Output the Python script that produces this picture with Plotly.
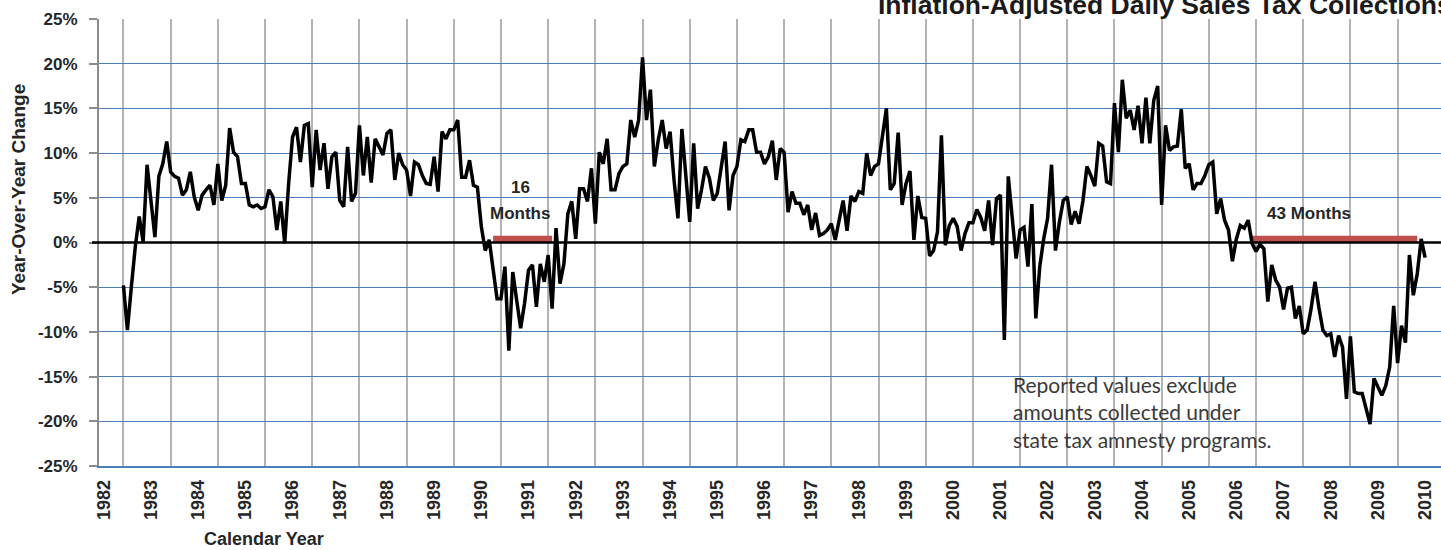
import plotly.graph_objects as go

# ---------------- data (year-over-year % change, monthly) ----------------
first_year = 1982
first_month = 6  # first value is June 1982

v1982 = [-4.8, -9.8, -5.0, -0.5, 2.9, 0.1, 8.7]
v1983 = [4.5, 0.6, 7.4, 8.8, 11.3, 7.9, 7.4, 7.2, 5.3, 5.9, 7.9, 5.1]
v1984 = [3.6, 5.3, 5.9, 6.4, 4.2, 8.8, 4.7, 6.4, 12.8, 10.1, 9.6, 6.6]
v1985 = [6.6, 4.2, 4.0, 4.2, 3.8, 4.0, 5.9, 5.1, 1.4, 4.6, -0.1, 6.6]
v1986 = [11.8, 12.9, 9.0, 13.1, 13.3, 6.2, 12.6, 8.1, 11.1, 6.0, 9.6, 10.1]
v1987 = [4.7, 4.0, 10.7, 4.6, 5.5, 13.1, 7.5, 11.8, 6.7, 11.6, 10.7, 9.8]
v1988 = [12.2, 12.6, 7.0, 10.0, 8.7, 8.1, 5.2, 9.0, 8.7, 7.5, 6.6, 6.5]
v1989 = [9.6, 5.7, 12.4, 11.6, 12.6, 12.6, 13.7, 7.3, 7.3, 9.2, 6.4, 6.2]
v1990 = [1.8, -0.9, 0.3, -3.0, -6.3, -6.3, -2.7, -12.1, -3.3, -6.5, -9.6, -6.8]
v1991 = [-3.1, -2.5, -7.2, -2.4, -4.4, -1.4, -7.4, 1.6, -4.6, -2.4, 3.2, 4.6]
v1992 = [0.4, 6.0, 6.0, 4.6, 8.3, 2.1, 10.1, 8.8, 11.6, 5.9, 5.9, 7.7]
v1993 = [8.5, 8.8, 13.7, 11.8, 13.7, 20.7, 13.7, 17.1, 8.5, 11.5, 13.7, 10.5]
v1994 = [12.4, 7.0, 2.7, 12.7, 7.0, 2.3, 11.1, 3.8, 5.9, 8.5, 7.2, 4.7]
v1995 = [5.5, 8.3, 11.3, 3.6, 7.5, 8.5, 11.5, 11.3, 12.6, 12.6, 10.1, 10.1]
v1996 = [8.8, 9.6, 11.4, 7.0, 10.5, 10.1, 3.4, 5.7, 4.4, 4.4, 3.1, 4.2]
v1997 = [1.4, 3.3, 0.8, 1.0, 1.4, 2.1, 0.3, 2.5, 4.7, 1.3, 5.2, 4.6]
v1998 = [5.7, 5.5, 10.0, 7.5, 8.5, 8.8, 11.8, 15.0, 5.9, 6.6, 12.3, 4.2]
v1999 = [6.6, 8.0, 0.3, 5.2, 2.8, 2.7, -1.5, -0.9, 1.2, 12.0, -0.3, 1.9]
v2000 = [2.7, 1.8, -0.9, 1.0, 2.2, 2.2, 3.7, 2.8, 1.3, 4.7, -0.3, 4.9]
v2001 = [5.3, -10.9, 7.4, 2.9, -1.8, 1.4, 1.7, -2.7, 4.3, -8.5, -2.7, 0.4]
v2002 = [2.7, 8.7, -0.9, 2.3, 4.7, 5.1, 2.0, 3.5, 2.1, 4.7, 8.5, 7.5]
v2003 = [6.3, 11.1, 10.8, 6.8, 6.6, 15.6, 10.1, 18.2, 13.9, 14.8, 12.6, 15.3]
v2004 = [11.1, 16.2, 11.1, 15.9, 17.5, 4.2, 13.1, 10.3, 10.7, 10.8, 14.9, 8.3]
v2005 = [8.8, 5.9, 6.6, 6.6, 7.5, 8.7, 9.0, 3.2, 4.9, 2.5, 1.4, -2.1]
v2006 = [0.4, 1.9, 1.6, 2.5, -0.1, -1.0, -0.2, -0.7, -6.6, -2.5, -4.2, -5.0]
v2007 = [-7.5, -5.1, -5.0, -8.5, -7.1, -10.2, -9.8, -7.4, -4.4, -7.3, -9.8, -10.4]
v2008 = [-10.2, -12.8, -10.4, -11.7, -17.5, -10.5, -16.7, -16.9, -16.9, -18.6, -20.3, -15.2]
v2009 = [-16.2, -17.1, -16.0, -13.9, -7.1, -13.5, -9.3, -11.2, -1.4, -5.9, -3.5, 0.4]
v2010 = [-1.7]

# negative-growth stretches (start month, end month as decimal years) and labels
bar_start = [1990 + 3 / 12, 2006 + 4 / 12]
bar_end = [1991 + 6 / 12, 2009 + 10 / 12]
bar_level = 0.35
bar_label_top = ["16", "43 Months"]
bar_label_bottom = ["Months", ""]

y_tick_vals = [-25, -20, -15, -10, -5, 0, 5, 10, 15, 20, 25]
y_tick_text = ["-25%", "-20%", "-15%", "-10%", "-5%", "0%", "5%", "10%", "15%", "20%", "25%"]
x_tick_years = list(range(1982, 2011))

title_text = "Inflation-Adjusted Daily Sales Tax Collections"
note_text = "Reported values exclude<br>amounts collected under<br>state tax amnesty programs."

# ---------------- build ----------------
yearly = [v1982, v1983, v1984, v1985, v1986, v1987, v1988, v1989, v1990, v1991,
          v1992, v1993, v1994, v1995, v1996, v1997, v1998, v1999, v2000, v2001,
          v2002, v2003, v2004, v2005, v2006, v2007, v2008, v2009, v2010]
values = [v for yr in yearly for v in yr]
x_vals = [first_year + (first_month - 1 + i) / 12 for i in range(len(values))]
grid_vals = [x_vals[0] + k for k in range(0, 29)]

W, H = 1441, 550
PL, PR, PT, PB = 99, 1441, 19, 466
YEAR_PX = 47.19
YEAR0_PX = 103.8
x_left = 1982 + (PL - YEAR0_PX) / YEAR_PX
x_right = 1982 + (PR - YEAR0_PX) / YEAR_PX


def fx(p):
    return (p - PL) / (PR - PL)


def fy(p):
    return (PB - p) / (PB - PT)


BOLD = "Liberation Sans, Arial, sans-serif"
TXT = "#262626"
RED = "#c0504d"
BLUE = "#4a7ebb"
GRAY = "#b3b3b3"

fig = go.Figure()

for s, e in zip(bar_start, bar_end):
    fig.add_trace(go.Scatter(x=[s, e], y=[bar_level, bar_level], mode="lines",
                             line=dict(color=RED, width=7), hoverinfo="skip",
                             showlegend=False))

fig.add_trace(go.Scatter(x=x_vals, y=values, mode="lines",
                         line=dict(color="black", width=3.5), showlegend=False,
                         hovertemplate="%{y:.1f}%<extra></extra>"))

fig.add_shape(type="line", xref="paper", yref="y", x0=fx(92), x1=1, y0=0, y1=0,
              line=dict(color="black", width=2.5), layer="above")

annotations = []
for s, e, top, bot in zip(bar_start, bar_end, bar_label_top, bar_label_bottom):
    cx = (s + e) / 2
    if bot:
        annotations.append(dict(x=cx - 0.05, y=6.2, xref="x", yref="y", text=top,
                                xanchor="center", yanchor="middle", showarrow=False,
                                font=dict(family=BOLD, size=17, color=TXT, weight="bold")))
        annotations.append(dict(x=cx - 0.05, y=3.3, xref="x", yref="y", text=bot,
                                xanchor="center", yanchor="middle", showarrow=False,
                                font=dict(family=BOLD, size=17, color=TXT, weight="bold")))
    else:
        annotations.append(dict(x=cx - 0.55, y=3.3, xref="x", yref="y", text=top,
                                xanchor="center", yanchor="middle", showarrow=False,
                                font=dict(family=BOLD, size=17, color=TXT, weight="bold")))

annotations.append(dict(x=fx(876), y=fy(5), xref="paper", yref="paper", text=title_text,
                        xanchor="left", yanchor="middle", showarrow=False,
                        font=dict(family=BOLD, size=26.5, color="#1a1a1a", weight="bold")))
annotations.append(dict(x=fx(1011), y=fy(412), xref="paper", yref="paper", text=note_text,
                        xanchor="left", yanchor="middle", align="left", showarrow=False,
                        font=dict(family="Lato, sans-serif", size=21, color="#3a3a3a")))
annotations.append(dict(x=fx(18), y=fy(190), xref="paper", yref="paper",
                        text="Year-Over-Year Change", textangle=-90, showarrow=False,
                        xanchor="center", yanchor="middle",
                        font=dict(family=BOLD, size=19, color=TXT, weight="bold")))
annotations.append(dict(x=fx(264), y=fy(539), xref="paper", yref="paper",
                        text="Calendar Year", showarrow=False,
                        xanchor="center", yanchor="middle",
                        font=dict(family=BOLD, size=18, color=TXT, weight="bold")))

fig.update_layout(
    width=W, height=H, autosize=False,
    margin=dict(l=PL, r=W - PR, t=PT, b=H - PB, pad=0, autoexpand=False),
    paper_bgcolor="white", plot_bgcolor="white",
    showlegend=False,
    annotations=annotations,
    xaxis=dict(
        range=[x_left, x_right], tickmode="array", tickvals=x_tick_years,
        ticktext=[str(y) for y in x_tick_years], tickangle=-90,
        showgrid=False, zeroline=False, ticks="", ticklabelstandoff=5,
        showline=True, linecolor=BLUE, linewidth=1.5,
        tickfont=dict(family=BOLD, size=18, color=TXT, weight="bold"),
        minor=dict(tickmode="array", tickvals=grid_vals, showgrid=True,
                   gridcolor=GRAY, gridwidth=1.6, ticks=""),
        fixedrange=True,
    ),
    yaxis=dict(
        range=[-25, 25], tickmode="array", tickvals=y_tick_vals, ticktext=y_tick_text,
        showgrid=True, gridcolor=BLUE, gridwidth=1.3, zeroline=False,
        ticks="outside", ticklen=8, tickwidth=1.5, tickcolor="#8c8c8c",
        ticklabelstandoff=8,
        showline=True, linecolor="#8c8c8c", linewidth=2,
        tickfont=dict(family=BOLD, size=17, color=TXT, weight="bold"),
        fixedrange=True,
    ),
)

fig.write_html("out.html", config={"displayModeBar": False},
               post_script="document.body.style.margin='0';")
